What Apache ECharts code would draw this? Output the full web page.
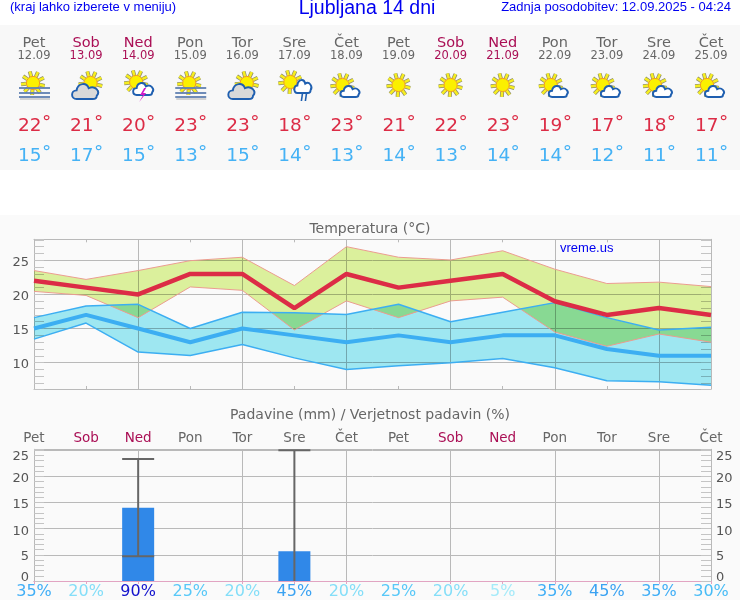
<!doctype html>
<html lang="en">
  <head>
    <meta charset="UTF-8" />
    <title>Ljubljana 14 dni</title>
    <script src="https://cdn.jsdelivr.net/npm/echarts@6/dist/echarts.min.js"></script>
    <style>
      html, body { margin: 0; padding: 0; background: #fff; }
      .band { position: absolute; left: 0; width: 740px; }
      #chart { position: absolute; left: 0; top: 0; width: 740px; height: 600px; }
    </style>
  </head>
  <body>
    <div class="band" style="top: 25px; height: 145px; background: #f8f8f8"></div>
    <div class="band" style="top: 215px; height: 385px; background: #fafafa"></div>
    <div id="chart"></div>

    <script>
      const days = ['Pet', 'Sob', 'Ned', 'Pon', 'Tor', 'Sre', 'Čet', 'Pet', 'Sob', 'Ned', 'Pon', 'Tor', 'Sre', 'Čet'];
      const dates = ['12.09', '13.09', '14.09', '15.09', '16.09', '17.09', '18.09', '19.09', '20.09', '21.09', '22.09', '23.09', '24.09', '25.09'];
      const icons = ['fog', 'cloudSun', 'storm', 'fog', 'cloudSun', 'rain', 'partly', 'sun', 'sun', 'sun', 'partly', 'partly', 'partly', 'partly'];

      const tempHigh = [22, 21, 20, 23, 23, 18, 23, 21, 22, 23, 19, 17, 18, 17];
      const tempLow = [15, 17, 15, 13, 15, 14, 13, 14, 13, 14, 14, 12, 11, 11];

      // spread of the max temperature
      const highTop = [23.5, 22.2, 23.5, 24.95, 25.45, 21.3, 27.0, 25.45, 25.05, 26.4, 23.7, 21.6, 21.8, 21.15];
      const highBottom = [20.45, 19.85, 16.6, 21.1, 20.6, 14.8, 19.05, 16.6, 19.05, 19.6, 14.5, 12.4, 14.2, 13.0];
      // spread of the min temperature
      const lowTop = [16.6, 18.3, 18.55, 15.0, 17.4, 17.3, 17.05, 18.55, 16.0, 17.4, 18.8, 16.6, 14.8, 15.2];
      const lowBottom = [13.45, 15.8, 11.55, 11.05, 12.65, 10.7, 9.0, 9.55, 10.0, 10.6, 9.25, 7.35, 7.2, 6.7];

      const rain = [0, 0, 14, 0, 0, 5.7, 0, 0, 0, 0, 0, 0, 0, 0];
      const rainLow = [null, null, 4.75, null, null, 0, null, null, null, null, null, null, null, null];
      const rainHigh = [null, null, 23.3, null, null, 25, null, null, null, null, null, null, null, null];
      const rainChance = [35, 20, 90, 25, 20, 45, 20, 25, 20, 5, 35, 45, 35, 30];

      const GREY = '#666666';
      const WEEKEND = '#aa0f55';
      const RED = '#dc2c46';
      const BLUE = '#3caef2';
      const LOW_TEXT = '#45b2f5';
      const GRID = '#b9b9b9';
      const SANS = '"DejaVu Sans"';
      const ARIAL = '"Liberation Sans"';

      function dayColor(name) {
        return name === 'Sob' || name === 'Ned' ? WEEKEND : GREY;
      }

      function chanceColor(p) {
        if (p >= 90) return '#1212cc';
        if (p >= 45) return '#3aa2f2';
        if (p >= 35) return '#40aef6';
        if (p >= 30) return '#48bcf6';
        if (p >= 25) return '#58c8f8';
        if (p >= 20) return '#84def8';
        return '#a4eaf9';
      }

      // --- weather icons -----------------------------------------------
      function sun(cx, cy) {
        const parts = [];
        for (let k = 0; k < 9; k++) {
          const a = 0.25 + (k * Math.PI * 2) / 9;
          const line = {
            x1: cx + Math.cos(a) * 6.5,
            y1: cy + Math.sin(a) * 6.5,
            x2: cx + Math.cos(a) * 12,
            y2: cy + Math.sin(a) * 12,
          };
          parts.push({ type: 'line', shape: line, style: { stroke: '#8a8a70', lineWidth: 4 } });
          parts.push({ type: 'line', shape: line, style: { stroke: '#f6ee20', lineWidth: 2.6 } });
        }
        parts.push({
          type: 'circle',
          shape: { cx: cx, cy: cy, r: 6.6 },
          style: { fill: '#fbf000', stroke: '#f09a20', lineWidth: 1 },
        });
        return parts;
      }

      const CLOUD_PATH = 'M6 16 C0 16 0 8 6 8 C7 1 16 0 18 6 C24 3 30 9 26 13 C26 15 24 16 22 16 Z';

      function cloud(x, y, w, h, fill) {
        return [
          {
            type: 'path',
            shape: { pathData: CLOUD_PATH, x: x, y: y, width: w, height: h, layout: 'cover' },
            style: { fill: fill, stroke: '#1f5fb0', lineWidth: 1.9 },
          },
        ];
      }

      function fogLines(cx) {
        const parts = [];
        [88, 93, 97].forEach(function (y) {
          parts.push({
            type: 'line',
            shape: { x1: cx - 15, y1: y, x2: cx + 16, y2: y },
            style: { stroke: '#5f7fb0', lineWidth: 1.8 },
          });
        });
        parts.push({
          type: 'line',
          shape: { x1: cx - 14, y1: 99, x2: cx + 16, y2: 99 },
          style: { stroke: '#bbbbbb', lineWidth: 1.2 },
        });
        return parts;
      }

      function drawIcon(kind, cx) {
        if (kind === 'fog') return sun(cx - 1, 83).concat(fogLines(cx));
        if (kind === 'cloudSun') return sun(cx + 4.5, 83).concat(cloud(cx - 14, 84, 26, 15, '#d9d9d9'));
        if (kind === 'partly') return sun(cx - 4, 85).concat(cloud(cx - 6, 86, 19, 11, '#ffffff'));
        if (kind === 'sun') return sun(cx, 85);
        if (kind === 'rain') {
          return sun(cx - 4, 82)
            .concat(cloud(cx, 80, 17, 13, '#ffffff'))
            .concat([
              { type: 'line', shape: { x1: cx + 8, y1: 94, x2: cx + 7, y2: 101 }, style: { stroke: '#1f5fb0', lineWidth: 1.6 } },
              { type: 'line', shape: { x1: cx + 12, y1: 94, x2: cx + 11, y2: 101 }, style: { stroke: '#1f5fb0', lineWidth: 1.6 } },
            ]);
        }
        // storm
        return sun(cx - 2, 82)
          .concat(cloud(cx - 5, 83, 20, 12, '#ffffff'))
          .concat([
            {
              type: 'polygon',
              shape: { points: [[cx + 6, 88], [cx + 2, 95], [cx + 5, 95], [cx + 1, 102], [cx + 8, 93], [cx + 5, 93], [cx + 8, 88]] },
              style: { fill: '#d018c8' },
            },
          ]);
      }

      function renderHeader(params, api) {
        const i = params.dataIndex;
        const x = api.coord([i, 0])[0];
        function label(text, xPos, y, font, color, align) {
          return {
            type: 'text',
            style: { text: text, x: xPos, y: y, font: font, fill: color, align: align || 'center', verticalAlign: 'middle' },
          };
        }
        const tempFont = '18.5px ' + SANS;
        return {
          type: 'group',
          children: [
            label(days[i], x, 43.5, '14.5px ' + SANS, dayColor(days[i])),
            label(dates[i], x, 56, '11.5px ' + SANS, dayColor(days[i])),
            label(String(tempHigh[i]), x + 7.5, 126, tempFont, RED, 'right'),
            label('°', x + 12.5, 123.5, tempFont, RED),
            label(String(tempLow[i]), x + 7.5, 156, tempFont, LOW_TEXT, 'right'),
            label('°', x + 12.5, 153.5, tempFont, LOW_TEXT),
          ].concat(drawIcon(icons[i], x)),
        };
      }

      function renderWhisker(params, api) {
        const x = api.coord([api.value(0), 0])[0];
        const low = api.value(1);
        const top = api.coord([api.value(0), api.value(2)])[1];
        const bottom = api.coord([api.value(0), low])[1];
        const style = { stroke: '#666666', lineWidth: 2 };
        const children = [
          { type: 'line', shape: { x1: x, y1: top, x2: x, y2: bottom }, style: style },
          { type: 'line', shape: { x1: x - 16, y1: top, x2: x + 16, y2: top }, style: style },
        ];
        if (low > 0) {
          children.push({ type: 'line', shape: { x1: x - 16, y1: bottom, x2: x + 16, y2: bottom }, style: style });
        }
        return { type: 'group', children: children };
      }

      // --- axes --------------------------------------------------------
      const everySecond = function (idx) {
        return idx % 2 === 0;
      };

      function xAxisFor(gridIndex, position, lineColor, extra) {
        return Object.assign(
          {
            type: 'category',
            gridIndex: gridIndex,
            position: position,
            data: days,
            boundaryGap: false,
            axisLine: { show: true, lineStyle: { color: lineColor, width: 1 } },
            axisTick: { show: true, inside: true, length: 3, interval: 0, lineStyle: { color: lineColor } },
            axisLabel: { show: false },
            splitLine: { show: false },
          },
          extra
        );
      }

      function yAxisFor(gridIndex, position, range, extra) {
        return Object.assign(
          {
            type: 'value',
            gridIndex: gridIndex,
            position: position,
            min: range[0],
            max: range[1],
            axisLine: { show: true, lineStyle: { color: GRID, width: 1 } },
            axisTick: { show: true, inside: true, length: 10, lineStyle: { color: '#c4c4c4' } },
            minorTick: { show: true, splitNumber: 5, length: 10, lineStyle: { color: '#c4c4c4' } },
            axisLabel: { show: false },
            splitLine: { show: false },
          },
          extra
        );
      }

      // axis labels sit a little off their ticks, most at both ends of the rain axis
      function tempLabel(value) {
        return value % 5 === 0 ? '{t|' + value + '}' : '';
      }
      function rainLabel(value) {
        return value % 5 === 0 ? '{v' + value + '|' + value + '}' : '';
      }
      const rainLabelStyle = {
        v0: { padding: [0, 0, 7, 0] },
        v5: { padding: [4, 0, 0, 0] },
        v10: { padding: [5, 0, 0, 0] },
        v15: { padding: [5, 0, 0, 0] },
        v20: { padding: [5, 0, 0, 0] },
        v25: { padding: [12, 0, 0, 0] },
      };

      const TEMP_RANGE = [6.14, 28.08];
      const RAIN_RANGE = [0, 25.17];

      const chart = echarts.init(document.getElementById('chart'), null, { renderer: 'canvas' });

      chart.setOption({
        animation: false,
        backgroundColor: 'transparent',
        graphic: [
          { type: 'text', x: 10, y: 7, style: { text: '(kraj lahko izberete v meniju)', font: '13px ' + ARIAL, fill: '#0000f0', verticalAlign: 'middle' } },
          { type: 'text', x: 367, y: 9, style: { text: 'Ljubljana 14 dni', font: '19.5px ' + ARIAL, fill: '#0000f0', align: 'center', verticalAlign: 'middle' } },
          { type: 'text', x: 731, y: 7, style: { text: 'Zadnja posodobitev: 12.09.2025 - 04:24', font: '13px ' + ARIAL, fill: '#0000f0', align: 'right', verticalAlign: 'middle' } },
          { type: 'text', x: 370, y: 229, style: { text: 'Temperatura (°C)', font: '14px ' + SANS, fill: GREY, align: 'center', verticalAlign: 'middle' } },
          { type: 'text', x: 370, y: 415, style: { text: 'Padavine (mm) / Verjetnost padavin (%)', font: '14px ' + SANS, fill: GREY, align: 'center', verticalAlign: 'middle' } },
          { type: 'text', x: 560, y: 248, z: 50, style: { text: 'vreme.us', font: '13px ' + ARIAL, fill: '#0000f0', verticalAlign: 'middle' } },
        ],
        grid: [
          { left: 34, width: 677, top: 0, height: 170 },
          { left: 34, width: 677, top: 239.3, height: 149.7 },
          { left: 34, width: 677, top: 449.3, height: 132.4 },
        ],
        xAxis: [
          { type: 'category', gridIndex: 0, data: days, boundaryGap: false, show: false },
          xAxisFor(1, 'bottom', GRID, {
            splitLine: { show: true, interval: everySecond, lineStyle: { color: GRID, width: 1 } },
          }),
          xAxisFor(1, 'top', GRID),
          xAxisFor(2, 'bottom', GRID, {
            data: rainChance.map(function (p) { return p + '%'; }),
            axisTick: { show: false },
            splitLine: { show: true, interval: everySecond, lineStyle: { color: GRID, width: 1 } },
            axisLabel: {
              show: true,
              interval: 0,
              margin: 3,
              fontFamily: 'DejaVu Sans',
              fontSize: 16,
              color: function (value) { return chanceColor(parseInt(value, 10)); },
            },
          }),
          xAxisFor(2, 'top', '#e2a4c2', {
            axisLabel: {
              show: true,
              interval: 0,
              margin: 4,
              fontFamily: 'DejaVu Sans',
              fontSize: 13.5,
              color: function (value) { return dayColor(value); },
            },
          }),
        ],
        yAxis: [
          { type: 'value', gridIndex: 0, show: false, min: 0, max: 1 },
          yAxisFor(1, 'left', TEMP_RANGE, {
            splitNumber: 4,
            splitLine: { show: true, lineStyle: { color: GRID, width: 1 } },
            axisLabel: {
              show: true,
              margin: 5,
              fontFamily: 'DejaVu Sans',
              fontSize: 13,
              color: '#555555',
              formatter: tempLabel,
              rich: { t: { padding: [4, 0, 0, 0] } },
            },
          }),
          yAxisFor(1, 'right', TEMP_RANGE, { splitNumber: 4 }),
          yAxisFor(2, 'left', RAIN_RANGE, {
            interval: 5,
            splitLine: { show: true, lineStyle: { color: GRID, width: 1 } },
            axisLabel: {
              show: true,
              margin: 5,
              fontFamily: 'DejaVu Sans',
              fontSize: 13,
              color: '#555555',
              formatter: rainLabel,
              rich: rainLabelStyle,
            },
          }),
          yAxisFor(2, 'right', RAIN_RANGE, {
            interval: 5,
            axisLabel: {
              show: true,
              margin: 5,
              fontFamily: 'DejaVu Sans',
              fontSize: 13,
              color: '#555555',
              formatter: rainLabel,
              rich: rainLabelStyle,
            },
          }),
        ],
        series: [
          {
            type: 'custom',
            xAxisIndex: 0,
            yAxisIndex: 0,
            renderItem: renderHeader,
            data: days.map(function (d, i) { return [i, 0]; }),
            silent: true,
          },
          // max temperature band
          {
            type: 'line',
            xAxisIndex: 1,
            yAxisIndex: 1,
            stack: 'high',
            data: highBottom,
            symbol: 'none',
            lineStyle: { color: '#eb9c90', width: 1 },
            z: 3,
          },
          {
            type: 'line',
            xAxisIndex: 1,
            yAxisIndex: 1,
            stack: 'high',
            data: highTop.map(function (v, i) { return v - highBottom[i]; }),
            symbol: 'none',
            lineStyle: { width: 0 },
            areaStyle: { color: '#dbf09c', opacity: 1 },
            blendMode: 'multiply',
            z: 2,
          },
          // min temperature band
          {
            type: 'line',
            xAxisIndex: 1,
            yAxisIndex: 1,
            stack: 'low',
            data: lowBottom,
            symbol: 'none',
            lineStyle: { color: BLUE, width: 1.5 },
            z: 4,
          },
          {
            type: 'line',
            xAxisIndex: 1,
            yAxisIndex: 1,
            stack: 'low',
            data: lowTop.map(function (v, i) { return v - lowBottom[i]; }),
            symbol: 'none',
            lineStyle: { width: 0 },
            areaStyle: { color: '#9ee7f1', opacity: 1 },
            blendMode: 'multiply',
            z: 3,
          },
          // band top edges
          {
            type: 'line',
            xAxisIndex: 1,
            yAxisIndex: 1,
            data: highTop,
            symbol: 'none',
            lineStyle: { color: '#eb9c90', width: 1 },
            z: 4,
          },
          {
            type: 'line',
            xAxisIndex: 1,
            yAxisIndex: 1,
            data: lowTop,
            symbol: 'none',
            lineStyle: { color: BLUE, width: 1.5 },
            z: 4,
          },
          // main lines
          {
            type: 'line',
            xAxisIndex: 1,
            yAxisIndex: 1,
            data: tempLow,
            symbol: 'none',
            lineStyle: { color: BLUE, width: 4 },
            z: 5,
          },
          {
            type: 'line',
            xAxisIndex: 1,
            yAxisIndex: 1,
            data: tempHigh,
            symbol: 'none',
            lineStyle: { color: RED, width: 4.5 },
            z: 6,
          },
          // rain
          {
            type: 'bar',
            xAxisIndex: 3,
            yAxisIndex: 3,
            data: rain,
            barWidth: 32,
            itemStyle: { color: '#3088e8' },
            z: 3,
          },
          {
            type: 'custom',
            xAxisIndex: 3,
            yAxisIndex: 3,
            renderItem: renderWhisker,
            data: days
              .map(function (d, i) { return [i, rainLow[i], rainHigh[i]]; })
              .filter(function (row) { return row[1] !== null; }),
            z: 4,
          },
        ],
      });
    </script>
  </body>
</html>
